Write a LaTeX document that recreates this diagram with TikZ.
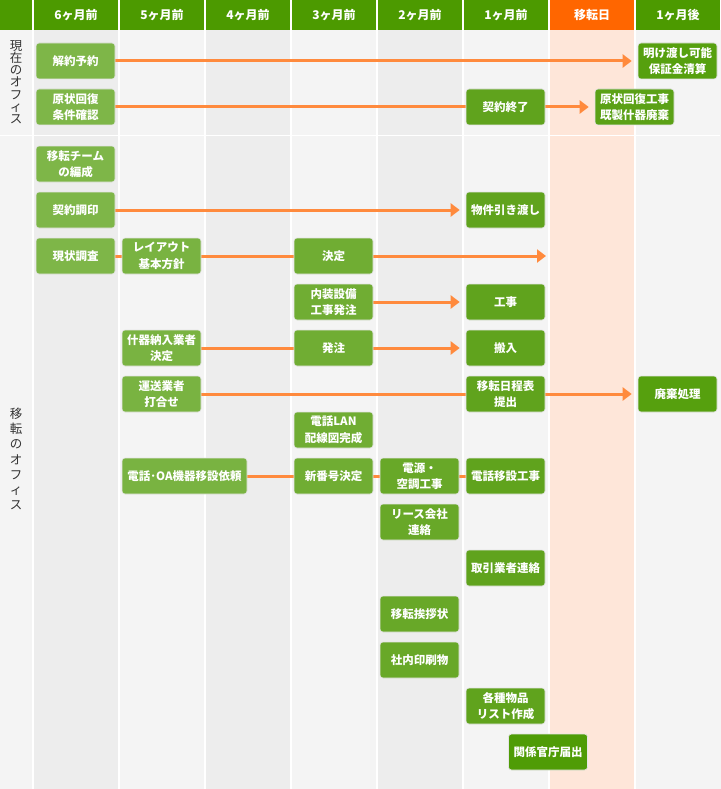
\documentclass[tikz,border=0pt]{standalone}
\usepackage{fontspec}
\setmainfont{Noto Sans CJK JP}
\usetikzlibrary{arrows.meta}
\pgfdeclarelayer{bg}
\pgfdeclarelayer{conn}
\pgfsetlayers{bg,conn,main}
\definecolor{hdr}{HTML}{4C9A00}
\definecolor{hdro}{HTML}{FF6600}
\definecolor{colA}{HTML}{F4F4F4}
\definecolor{colB}{HTML}{EDEDED}
\definecolor{colP}{HTML}{FEE6D9}
\definecolor{arr}{HTML}{FF8A3D}
\definecolor{gA}{HTML}{7EB648}
\definecolor{gB}{HTML}{79B341}
\definecolor{gC}{HTML}{70AD33}
\definecolor{gD}{HTML}{68A828}
\definecolor{gE}{HTML}{60A31D}
\definecolor{gF}{HTML}{5BA116}
\definecolor{gG}{HTML}{56A00E}
\definecolor{gH}{HTML}{4F9C06}
\definecolor{lbl}{HTML}{333333}
\tikzset{
  box/.style={rounded corners=3pt, minimum width=79pt, minimum height=36pt,
    text=white, font=\fontsize{11.5}{16.5}\selectfont\bfseries, align=center,
    inner sep=0pt, draw=black!10, line width=0.6pt},
  hd/.style={text=white, font=\fontsize{12}{13}\selectfont\bfseries},
  vl/.style={text=lbl, align=center, inner sep=0pt},
  ln/.style={draw=arr, line width=3pt},
  ar/.style={ln, -{Triangle[length=9pt,width=13pt]}, shorten >=6pt}
}
\begin{document}
\begin{tikzpicture}[x=1pt,y=-1pt]
\useasboundingbox (0,0) rectangle (720,789);
\begin{pgfonlayer}{bg}
  \fill[colA] (0,0) rectangle (720,789);
  % columns
  \foreach \i/\c in {0/colB,1/colA,2/colB,3/colA,4/colB,5/colA,6/colP,7/colA}{
    \fill[\c] ({33+86*\i},30) rectangle ({33+86*\i+86},789);
  }
  % header
  \fill[hdr] (0,0) rectangle (720,30);
  \fill[hdro] (549,0) rectangle (635,30);
  \foreach \x in {33,119,205,291,377,463,549,635}{
    \draw[white, line width=1.5pt] (\x,0) -- (\x,789);
  }
  \draw[white, line width=1.5pt] (0,135.5) -- (720,135.5);
\end{pgfonlayer}
% header labels
\node[hd] (h1) at (76,15) {6ヶ月前};
\node[hd] (h2) at (162,15) {5ヶ月前};
\node[hd] (h3) at (248,15) {4ヶ月前};
\node[hd] (h4) at (334,15) {3ヶ月前};
\node[hd] (h5) at (420,15) {2ヶ月前};
\node[hd] (h6) at (506,15) {1ヶ月前};
\node[hd] (h7) at (592,15) {移転日};
\node[hd] (h8) at (678,15) {1ヶ月後};
% side labels
\node[vl, font=\fontsize{12.5}{12.2}\selectfont] (s1) at (16,82) {現\\在\\の\\オ\\フ\\ィ\\ス};
\node[vl, font=\fontsize{12.5}{15.2}\selectfont] (s2) at (16,459) {移\\転\\の\\オ\\フ\\ィ\\ス};
% current office
\node[box, fill=gA] (kaiyaku) at (75.5,61) {解約予約};
\node[box, fill=gA] (genjo) at (75.5,107) {原状回復\\条件確認};
\node[box, fill=gG] (akewatashi) at (677.5,61) {明け渡し可能\\保証金清算};
\node[box, fill=gE] (shuryo) at (505.5,107) {契約終了};
\node[box, fill=gF] (genjokoji) at (634.5,107) {原状回復工事\\既製什器廃棄};
% new office
\node[box, fill=gA] (team) at (75.5,164) {移転チーム\\の編成};
\node[box, fill=gA] (chouin) at (75.5,210) {契約調印};
\node[box, fill=gE] (hikiwatashi) at (505.5,210) {物件引き渡し};
\node[box, fill=gA] (chousa) at (75.5,256) {現状調査};
\node[box, fill=gB] (layout) at (161.5,256) {レイアウト\\基本方針};
\node[box, fill=gC] (kettei) at (333.5,256) {決定};
\coordinate (kend) at (552,256);
\node[box, fill=gC] (naisou) at (333.5,302) {内装設備\\工事発注};
\node[box, fill=gE] (kouji) at (505.5,302) {工事};
\node[box, fill=gB] (juki) at (161.5,348) {什器納入業者\\決定};
\node[box, fill=gC] (hatchu) at (333.5,348) {発注};
\node[box, fill=gE] (hannyu) at (505.5,348) {搬入};
\node[box, fill=gB] (unsou) at (161.5,394) {運送業者\\打合せ};
\node[box, fill=gE] (nittei) at (505.5,394) {移転日程表\\提出};
\node[box, fill=gG] (haiki) at (677.5,394) {廃棄処理};
\node[box, fill=gC] (lan) at (333.5,430) {電話LAN\\配線図完成};
\node[box, fill=gB, minimum width=125pt] (oa) at (184.5,476) {電話･OA機器移設依頼};
\node[box, fill=gC] (shinbango) at (333.5,476) {新番号決定};
\node[box, fill=gD] (dengen) at (419.5,476) {電源・\\空調工事};
\node[box, fill=gE] (denwaiko) at (505.5,476) {電話移設工事};
\node[box, fill=gD] (lease) at (419.5,522) {リース会社\\連絡};
\node[box, fill=gE] (torihiki) at (505.5,568) {取引業者連絡};
\node[box, fill=gD] (aisatsu) at (419.5,614) {移転挨拶状};
\node[box, fill=gD] (insatsu) at (419.5,660) {社内印刷物};
\node[box, fill=gE] (kakushu) at (505.5,706) {各種物品\\リスト作成};
\node[box, fill=gH] (kankei) at (548,752) {関係官庁届出};
% connectors
\begin{pgfonlayer}{conn}
  \draw[ar] (kaiyaku) -- (akewatashi);
  \draw[ln] (genjo) -- (shuryo);
  \draw[ar] (shuryo) -- (genjokoji);
  \draw[ar] (chouin) -- (hikiwatashi);
  \draw[ln] (chousa) -- (layout);
  \draw[ln] (layout) -- (kettei);
  \draw[ar] (kettei) -- (kend);
  \draw[ar] (naisou) -- (kouji);
  \draw[ln] (juki) -- (hatchu);
  \draw[ar] (hatchu) -- (hannyu);
  \draw[ln] (unsou) -- (nittei);
  \draw[ar] (nittei) -- (haiki);
  \draw[ln] (oa) -- (shinbango);
  \draw[ln] (shinbango) -- (dengen);
  \draw[ln] (dengen) -- (denwaiko);
\end{pgfonlayer}
\end{tikzpicture}
\end{document}
